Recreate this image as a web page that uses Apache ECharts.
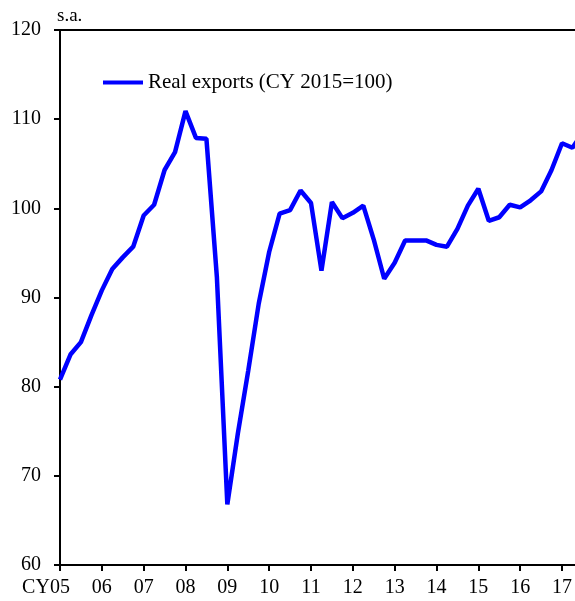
<!DOCTYPE html>
<html>
<head>
<meta charset="utf-8">
<script src="https://cdn.jsdelivr.net/npm/echarts@6/dist/echarts.min.js"></script>
<style>
    html, body { margin: 0; padding: 0; background: #fff; }
    #chart { width: 575px; height: 601px; }
</style>
</head>
<body>
<div id="chart"></div>
<script>
// quarterly, starting CY2005 Q1 (last point runs past the right edge)
const startYear = 2005
const yearLabels = ['05', '06', '07', '08', '09', '10', '11', '12', '13', '14', '15', '16', '17']
const realExports = [
    80.8, 83.6, 85.0, 88.0,
    90.8, 93.2, 94.5, 95.7,
    99.2, 100.4, 104.3, 106.3,
    110.9, 107.9, 107.8, 92.3,
    66.8, 74.7, 81.8, 89.3,
    95.1, 99.4, 99.8, 102.0,
    100.6, 93.0, 100.7, 98.9,
    99.5, 100.3, 96.5, 92.1,
    93.9, 96.4, 96.4, 96.4,
    95.9, 95.7, 97.7, 100.3,
    102.2, 98.6, 99.0, 100.4,
    100.1, 100.9, 101.9, 104.3,
    107.3, 106.8, 108.5
]
const yTicks = [60, 70, 80, 90, 100, 110, 120]
const seriesName = 'Real exports (CY 2015=100)'

const fontFamily = '"Liberation Serif", "Times New Roman", serif'
const xMax = 49.24

const chart = echarts.init(document.getElementById('chart'))
const option = {
    animation: false,
    textStyle: { fontFamily: fontFamily },
    grid: { left: 60, right: 0, top: 30, bottom: 36 },
    legend: {
        left: 103,
        top: 72,
        padding: 0,
        icon: 'rect',
        itemWidth: 40,
        itemHeight: 4,
        textStyle: { fontFamily: fontFamily, fontSize: 21, color: '#000' },
        data: [seriesName]
    },
    xAxis: [{
        type: 'value',
        min: 0,
        max: xMax,
        interval: 4,
        axisLine: { show: true, lineStyle: { color: '#000', width: 2 } },
        axisTick: { show: true, inside: false, length: 6, lineStyle: { color: '#000', width: 2 } },
        splitLine: { show: false },
        axisLabel: {
            color: '#000',
            fontSize: 20,
            margin: 13,
            showMaxLabel: false,
            formatter: v => {
                if (v % 4 !== 0) return ''
                const lbl = yearLabels[v / 4]
                if (lbl === undefined) return ''
                return v === 0 ? '{cy|CY}' + lbl + '{p| }' : lbl
            },
            rich: {
                cy: { fontFamily: fontFamily, fontSize: 20, color: '#000' },
                p: { width: 28, fontSize: 20 }
            }
        }
    }, {
        type: 'value',
        position: 'top',
        min: 0,
        max: xMax,
        axisLine: { show: true, lineStyle: { color: '#000', width: 2 } },
        axisTick: { show: false },
        axisLabel: { show: false },
        splitLine: { show: false }
    }],
    yAxis: {
        type: 'value',
        min: yTicks[0],
        max: yTicks[yTicks.length - 1],
        interval: 10,
        name: 's.a.',
        nameLocation: 'end',
        nameGap: 4,
        nameTextStyle: {
            fontFamily: fontFamily,
            fontSize: 19,
            color: '#000',
            align: 'left',
            verticalAlign: 'bottom',
            padding: [0, 0, 0, -3]
        },
        axisLine: { show: true, lineStyle: { color: '#000', width: 2 } },
        axisTick: { show: true, inside: false, length: 6, lineStyle: { color: '#000', width: 2 } },
        splitLine: { show: false },
        axisLabel: { color: '#000', fontSize: 20, margin: 19 }
    },
    series: [{
        name: seriesName,
        type: 'line',
        xAxisIndex: 0,
        showSymbol: false,
        symbol: 'none',
        clip: true,
        lineStyle: { color: '#0000ff', width: 4.5 },
        itemStyle: { color: '#0000ff' },
        data: realExports.map((v, i) => [i, v])
    }]
}
chart.setOption(option)
</script>
</body>
</html>
